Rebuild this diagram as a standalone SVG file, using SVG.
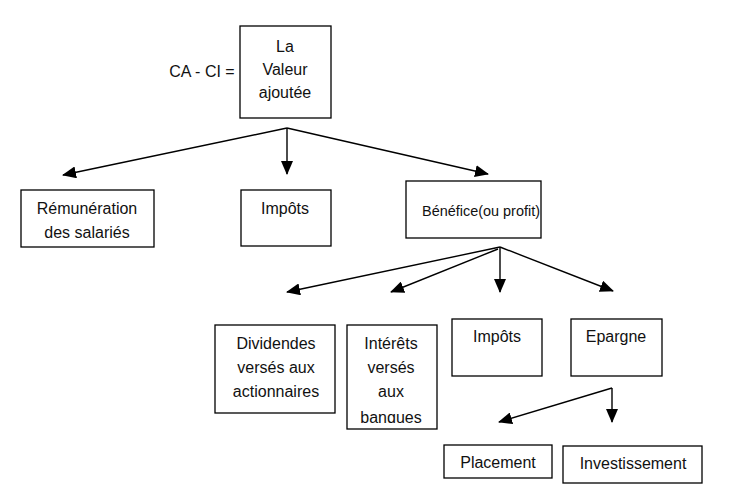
<svg xmlns="http://www.w3.org/2000/svg" width="750" height="488" viewBox="0 0 750 488">
<style>
.box{fill:#fff;stroke:#000;stroke-width:1.3}
.t{font-family:"Liberation Sans",Arial,sans-serif;font-size:16px;fill:#111;text-anchor:middle}
.c{stroke:#000;stroke-width:1.4;fill:none;marker-end:url(#ah)}
</style>
<defs>
<marker id="ah" markerUnits="userSpaceOnUse" markerWidth="14" markerHeight="12" viewBox="0 0 14 12" refX="13" refY="6" orient="auto">
<path d="M0,0 L14,6 L0,12 Z" fill="#000"/>
</marker>
<clipPath id="clipI"><rect x="346" y="325" width="91" height="98"/></clipPath>
</defs>
<rect width="750" height="488" fill="#fff"/>
<text class="t" x="202" y="77">CA - CI =</text>
<g id="valeur">
<rect class="box" x="240" y="26" width="91" height="92"/>
<text class="t" x="285" y="52">La</text>
<text class="t" x="285" y="75">Valeur</text>
<text class="t" x="285" y="98">ajoutée</text>
</g>
<g id="remuneration">
<rect class="box" x="21" y="190" width="133" height="57"/>
<text class="t" x="87" y="214">Rémunération</text>
<text class="t" x="87" y="238">des salariés</text>
</g>
<g id="impots1">
<rect class="box" x="241" y="190" width="90" height="56"/>
<text class="t" x="285" y="214">Impôts</text>
</g>
<g id="benefice">
<rect class="box" x="406" y="181" width="135" height="57"/>
<text class="t" x="422" y="216" style="font-size:14px;text-anchor:start" textLength="118" lengthAdjust="spacingAndGlyphs">Bénéfice(ou profit)</text>
</g>
<g id="dividendes">
<rect class="box" x="215" y="325" width="120" height="88"/>
<text class="t" x="276" y="349">Dividendes</text>
<text class="t" x="276" y="373">versés aux</text>
<text class="t" x="276" y="397">actionnaires</text>
</g>
<g id="interets">
<rect class="box" x="347" y="325" width="90" height="104"/>
<g clip-path="url(#clipI)">
<text class="t" x="391" y="349">Intérêts</text>
<text class="t" x="391" y="373">versés</text>
<text class="t" x="391" y="397">aux</text>
<text class="t" x="391" y="423">banques</text>
</g>
</g>
<g id="impots2">
<rect class="box" x="452" y="319" width="90" height="57"/>
<text class="t" x="497" y="342">Impôts</text>
</g>
<g id="epargne">
<rect class="box" x="571" y="319" width="91" height="57"/>
<text class="t" x="616" y="342">Epargne</text>
</g>
<g id="placement">
<rect class="box" x="444" y="445" width="108" height="33"/>
<text class="t" x="498" y="468">Placement</text>
</g>
<g id="investissement">
<rect class="box" x="563" y="446" width="139" height="37"/>
<text class="t" x="633" y="469">Investissement</text>
</g>
<g id="connectors">
<path class="c" d="M287,128 L63,175"/>
<path class="c" d="M287,128 L287,174"/>
<path class="c" d="M287,128 L488,174"/>
<path class="c" d="M500,247 L287,292"/>
<path class="c" d="M498,249 L391,292"/>
<path class="c" d="M500,247 L500,292"/>
<path class="c" d="M500,247 L613,291"/>
<path class="c" d="M612,388 L499,422"/>
<path class="c" d="M612,388 L612,422"/>
</g>
</svg>
